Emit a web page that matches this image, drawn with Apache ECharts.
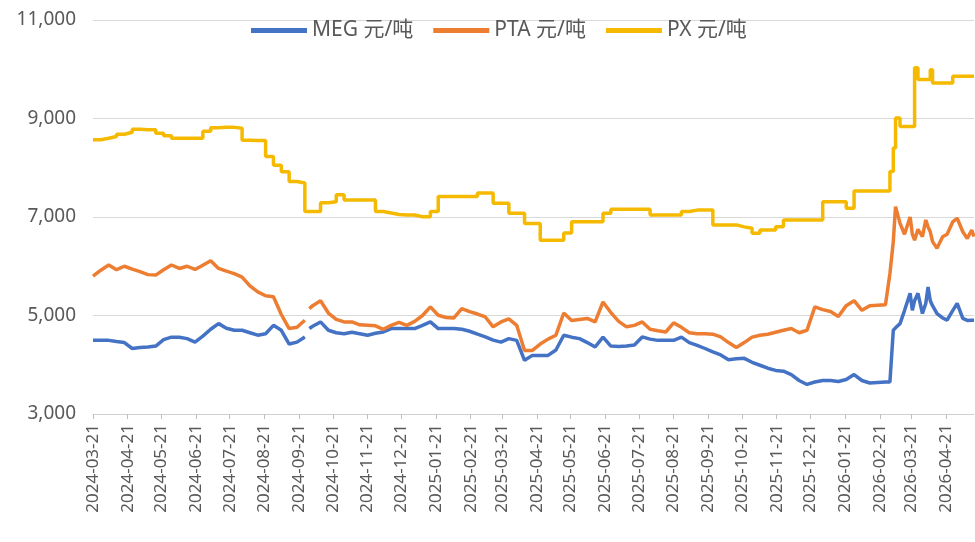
<!DOCTYPE html>
<html>
<head>
<meta charset="utf-8">
<title>MEG / PTA / PX</title>
<script src="https://cdn.jsdelivr.net/npm/echarts@6/dist/echarts.min.js"></script>
<style>
    html, body { margin: 0; padding: 0; background: #fff; }
    #chart { width: 975px; height: 542px; }
</style>
</head>
<body>
<div id="chart"></div>
<script>
    // 采样日期（周度，2026-03 之后加密）
    var sampleDates = [
        '2024-03-21','2024-03-28','2024-04-04','2024-04-11','2024-04-18','2024-04-25','2024-05-02','2024-05-09',
        '2024-05-16','2024-05-23','2024-05-30','2024-06-06','2024-06-13','2024-06-20','2024-06-27','2024-07-04',
        '2024-07-11','2024-07-18','2024-07-25','2024-08-01','2024-08-08','2024-08-15','2024-08-22','2024-08-29',
        '2024-09-05','2024-09-12','2024-09-19','2024-09-26','2024-09-28','2024-09-30','2024-10-03','2024-10-10',
        '2024-10-17','2024-10-24','2024-10-31','2024-11-07','2024-11-14','2024-11-21','2024-11-28','2024-12-05',
        '2024-12-12','2024-12-19','2024-12-26','2025-01-02','2025-01-09','2025-01-16','2025-01-23','2025-01-30',
        '2025-02-06','2025-02-13','2025-02-20','2025-02-27','2025-03-06','2025-03-13','2025-03-20','2025-03-27',
        '2025-04-03','2025-04-10','2025-04-17','2025-04-24','2025-05-01','2025-05-08','2025-05-15','2025-05-22',
        '2025-05-29','2025-06-05','2025-06-12','2025-06-19','2025-06-26','2025-07-03','2025-07-10','2025-07-17',
        '2025-07-24','2025-07-31','2025-08-07','2025-08-14','2025-08-21','2025-08-28','2025-09-04','2025-09-11',
        '2025-09-18','2025-09-25','2025-10-02','2025-10-09','2025-10-16','2025-10-23','2025-10-30','2025-11-06',
        '2025-11-13','2025-11-20','2025-11-27','2025-12-04','2025-12-11','2025-12-18','2025-12-25','2026-01-01',
        '2026-01-08','2026-01-15','2026-01-22','2026-01-29','2026-02-05','2026-02-12','2026-02-19','2026-02-26',
        '2026-03-02','2026-03-05','2026-03-07','2026-03-11','2026-03-15','2026-03-20','2026-03-22','2026-03-24',
        '2026-03-27','2026-03-31','2026-04-03','2026-04-05','2026-04-07','2026-04-09','2026-04-13','2026-04-18',
        '2026-04-22','2026-04-27','2026-05-01','2026-05-06','2026-05-10','2026-05-14','2026-05-16'
    ];

    // MEG 元/吨
    var megValues = [
        4495,4495,4495,4470,4450,4330,4350,4360,
        4380,4510,4560,4560,4530,4460,4580,4720,
        4835,4740,4700,4700,4650,4600,4630,4800,
        4700,4420,4460,4565,null,4735,4780,4870,
        4700,4650,4630,4660,4630,4600,4640,4665,
        4735,4735,4735,4735,4800,4870,4735,4735,
        4735,4720,4680,4620,4565,4500,4460,4530,
        4495,4090,4190,4190,4190,4300,4600,4560,
        4530,4450,4360,4560,4380,4370,4380,4400,
        4565,4520,4495,4495,4495,4560,4450,4395,
        4330,4260,4200,4100,4120,4130,4050,3990,
        3930,3885,3870,3800,3680,3600,3650,3680,
        3680,3660,3700,3800,3680,3630,3640,3650,
        3650,4700,4750,4835,5100,5450,5105,5300,
        5450,5040,5250,5580,5300,5200,5040,4950,
        4905,5100,5245,4940,4900,4905,4905
    ];

    // PTA 元/吨
    var ptaValues = [
        5800,5920,6025,5930,6000,5940,5890,5830,
        5820,5930,6025,5955,6000,5935,6020,6110,
        5955,5900,5850,5780,5600,5480,5400,5380,
        5020,4735,4760,4905,null,5140,5200,5300,
        5050,4920,4870,4870,4810,4800,4790,4720,
        4800,4860,4800,4880,5000,5175,5005,4960,
        4950,5140,5080,5030,4970,4770,4870,4930,
        4800,4290,4290,4420,4520,4600,5050,4900,
        4920,4940,4870,5275,5060,4880,4770,4800,
        4870,4720,4690,4665,4850,4760,4650,4630,
        4630,4620,4565,4450,4350,4450,4560,4600,
        4620,4660,4700,4735,4650,4700,5175,5120,
        5080,4980,5200,5300,5105,5200,5210,5220,
        5855,6500,7210,6870,6650,7000,6650,6530,
        6750,6600,6940,6800,6700,6500,6365,6600,
        6650,6900,6975,6700,6565,6735,6600
    ];

    // PX 元/吨
    var pxValues = [
        8570,8600,8635,8680,8720,8780,8770,8770,
        8700,8650,8600,8600,8600,8600,8740,8810,
        8820,8820,8800,8560,8555,8555,8230,8050,
        7920,7720,7690,7110,7110,7110,7110,7290,
        7310,7450,7345,7345,7345,7345,7110,7080,
        7050,7040,7040,7005,7005,7110,7415,7415,
        7415,7415,7415,7485,7485,7280,7280,7075,
        7075,6870,6870,6530,6530,6530,6675,6905,
        6905,6905,6905,7075,7155,7155,7155,7155,
        7155,7040,7040,7040,7040,7110,7140,7140,
        7140,6840,6840,6840,6800,6770,6670,6735,
        6735,6800,6940,6940,6940,6940,6940,7310,
        7310,7310,7180,7530,7530,7530,7530,7530,
        7925,8400,9010,8840,8840,8840,8840,10030,
        9790,9790,9790,9790,9990,9720,9720,9720,
        9720,9860,9860,9860,9860,9860,9860
    ];

    var seriesNames = ['MEG 元/吨', 'PTA 元/吨', 'PX 元/吨'];
    var seriesColors = ['#4472C4', '#ED7D31', '#F5BA00'];
    var yTicks = [3000, 5000, 7000, 9000, 11000];
    var axisStart = '2024-03-21';
    var axisEnd = '2026-05-16';

    // 日期轴：逐日类目，标签只显示每月 21 日
    function dayList(from, to) {
        var out = [];
        var d = new Date(from + 'T00:00:00Z');
        var end = new Date(to + 'T00:00:00Z');
        while (d <= end) {
            out.push(d.toISOString().slice(0, 10));
            d.setUTCDate(d.getUTCDate() + 1);
        }
        return out;
    }
    var allDays = dayList(axisStart, axisEnd);
    var isLabelDay = function (index, value) {
        return value.slice(8, 10) === '21';
    };

    function toPairs(values) {
        return sampleDates.map(function (d, i) {
            return [d, values[i] == null ? '-' : values[i]];
        });
    }

    var fontFamily = '"Noto Sans", "Noto Sans CJK SC", sans-serif';
    var myChart = echarts.init(document.getElementById('chart'));
    myChart.setOption({
        animation: false,
        backgroundColor: '#fff',
        color: seriesColors,
        grid: {
            left: 93,
            right: 1,
            top: 20,
            bottom: 128,
            containLabel: false
        },
        legend: {
            data: seriesNames,
            top: 15,
            left: 246,
            icon: 'rect',
            itemWidth: 56,
            itemHeight: 5,
            itemGap: 20,
            textStyle: {
                color: '#595959',
                fontSize: 21,
                fontFamily: fontFamily
            }
        },
        xAxis: {
            type: 'category',
            data: allDays,
            boundaryGap: false,
            axisLine: {
                lineStyle: { color: '#d0d0d0', width: 1 }
            },
            axisTick: {
                interval: isLabelDay,
                length: 5,
                lineStyle: { color: '#bfbfbf' }
            },
            axisLabel: {
                interval: isLabelDay,
                rotate: 90,
                margin: 10,
                color: '#595959',
                fontSize: 17,
                fontFamily: fontFamily
            },
            splitLine: { show: false }
        },
        yAxis: {
            type: 'value',
            min: yTicks[0],
            max: yTicks[yTicks.length - 1],
            interval: 2000,
            axisLine: { show: false },
            axisTick: { show: false },
            axisLabel: {
                margin: 17,
                color: '#595959',
                fontSize: 19,
                fontFamily: fontFamily,
                formatter: function (v) {
                    return v.toLocaleString('en-US');
                }
            },
            splitLine: {
                lineStyle: { color: '#d9d9d9', width: 1 }
            }
        },
        series: [
            {
                name: seriesNames[0],
                type: 'line',
                data: toPairs(megValues),
                symbol: 'none',
                connectNulls: false,
                lineStyle: { width: 3.5, color: seriesColors[0] },
                itemStyle: { color: seriesColors[0] }
            },
            {
                name: seriesNames[1],
                type: 'line',
                data: toPairs(ptaValues),
                symbol: 'none',
                connectNulls: false,
                lineStyle: { width: 3.5, color: seriesColors[1] },
                itemStyle: { color: seriesColors[1] }
            },
            {
                name: seriesNames[2],
                type: 'line',
                step: 'end',
                data: toPairs(pxValues),
                symbol: 'none',
                lineStyle: { width: 3.5, color: seriesColors[2] },
                itemStyle: { color: seriesColors[2] }
            }
        ]
    });
</script>
</body>
</html>
